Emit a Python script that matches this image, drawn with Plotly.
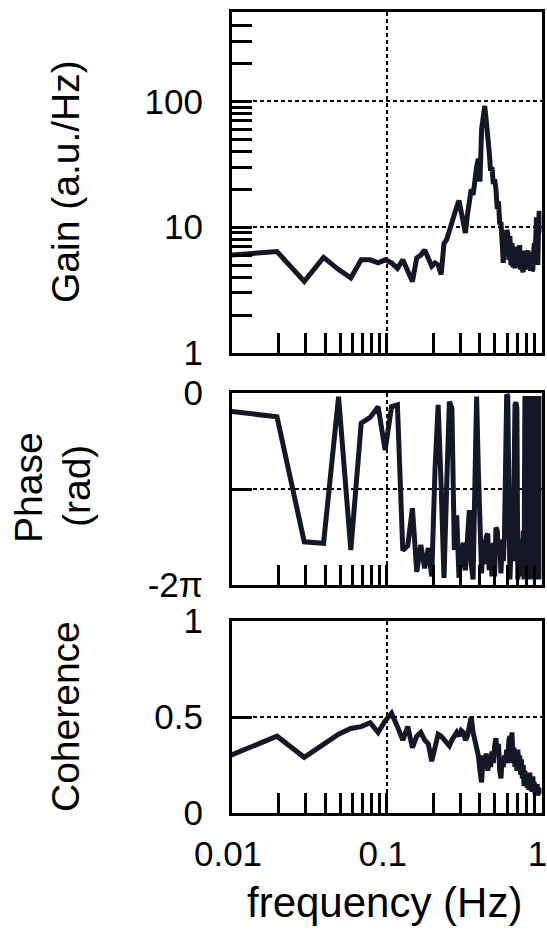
import math
import plotly.graph_objects as go

# ---------------- data ----------------
freq_bins = list(range(1, 103))          # FFT bin index
freq_resolution = 1 / 102.4              # Hz per bin
freq = [k * freq_resolution for k in freq_bins]

gain = [6.0, 6.4, 3.7, 5.75, 4.6, 3.95, 5.5, 5.5, 5.2, 5.5,
        5.2, 4.7, 5.5, 4.5, 3.7, 5.7, 6.0, 6.6, 5.8, 4.9,
        5.2, 5.0, 4.2, 7.4, 8.0, 9.5, 10.5, 12.5, 14.5, 16.3,
        13.0, 11.0, 9.0, 12.5, 15.0, 20.0, 18.0, 25.0, 30.0, 35.0,
        23.0, 60.0, 85.0, 92.0, 70.0, 45.0, 40.0, 28.0, 30.0, 22.0,
        24.0, 20.0, 14.0, 16.0, 10.5, 11.0, 7.0, 5.2, 8.5, 6.0,
        9.5, 8.9, 5.5, 8.5, 5.0, 7.5, 4.8, 7.0, 4.7, 6.5,
        4.8, 7.0, 5.0, 7.2, 4.6, 6.5, 4.6, 4.4, 6.2, 4.7,
        6.5, 4.6, 6.3, 6.5, 4.7, 6.0, 4.5, 6.3, 4.5, 4.6,
        6.0, 7.5, 5.5, 9.0, 12.0, 8.0, 5.0, 10.0, 13.5, 9.0,
        12.0, 10.0]

phase = [-0.6, -0.78, -4.87, -4.92, -0.12, -5.14, -0.99, -0.8, -0.45, -1.87,
         -0.45, -0.39, -5.15, -5.0, -3.77, -5.85, -4.97, -5.74, -5.07, -6.0,
         -2.5, -0.39, -3.0, -6.05, -3.0, -0.28, -0.5, -5.14, -4.0, -6.05,
         -5.3, -4.9, -5.8, -4.6, -3.83, -5.6, -6.1, -3.0, -0.12, -2.5,
         -5.14, -5.9, -4.8, -5.6, -4.7, -4.6, -5.8, -5.1, -6.0, -4.9,
         -6.0, -4.4, -4.5, -5.3, -4.8, -5.9, -4.9, -5.5, -4.7, -2.0,
         -0.05, -0.1, -3.0, -6.1, -5.2, -4.6, -5.5, -2.0, -0.4, -0.3,
         -0.5, -6.1, -5.0, -5.8, -4.8, -6.0, -5.2, -4.5, -6.1, -0.1,
         -6.1, -0.2, -6.1, -0.1, -5.9, -0.3, -6.1, -0.1, -6.0, -0.2,
         -6.1, -0.1, -5.8, -0.3, -6.1, -0.1, -6.0, -0.2, -6.1, -0.1,
         -5.9, -0.2]

coherence = [0.30, 0.40, 0.29, 0.36, 0.41, 0.44, 0.45, 0.47, 0.42, 0.48,
             0.52, 0.45, 0.38, 0.45, 0.34, 0.40, 0.42, 0.38, 0.36, 0.27,
             0.35, 0.41, 0.40, 0.38, 0.36, 0.35, 0.38, 0.40, 0.42, 0.40,
             0.43, 0.42, 0.38, 0.40, 0.45, 0.50, 0.42, 0.38, 0.36, 0.30,
             0.22, 0.16, 0.30, 0.25, 0.31, 0.22, 0.28, 0.24, 0.32, 0.26,
             0.35, 0.39, 0.30, 0.36, 0.22, 0.18, 0.28, 0.24, 0.30, 0.27,
             0.33, 0.26, 0.38, 0.40, 0.30, 0.42, 0.26, 0.34, 0.24, 0.30,
             0.22, 0.33, 0.26, 0.30, 0.20, 0.28, 0.18, 0.25, 0.14, 0.22,
             0.17, 0.20, 0.13, 0.18, 0.12, 0.21, 0.15, 0.17, 0.11, 0.19,
             0.13, 0.16, 0.10, 0.14, 0.12, 0.15, 0.09, 0.13, 0.11, 0.12,
             0.10, 0.13]

x_major = [0.01, 0.1, 1]
x_major_labels = ["0.01", "0.1", "1"]
x_minor = [0.02, 0.03, 0.04, 0.05, 0.06, 0.07, 0.08, 0.09,
           0.2, 0.3, 0.4, 0.5, 0.6, 0.7, 0.8, 0.9]

gain_major = [1, 10, 100]
gain_major_labels = ["1", "10", "100"]
gain_minor = [2, 3, 4, 5, 6, 7, 8, 9, 20, 30, 40, 50, 60, 70, 80, 90,
              200, 300, 400]

phase_major = [-2 * math.pi, -math.pi, 0]
phase_major_labels = ["-2π", "", "0"]

coh_major = [0, 0.5, 1]
coh_major_labels = ["0", "0.5", "1"]

# ---------------- styling ----------------
W, H = 547, 937
FONT = "Liberation Sans, Arial, sans-serif"
LINE = "#131826"
TICKFONT = dict(family=FONT, size=35, color="black")

xdom = [232 / W, 541.5 / W]
gain_dom = [1 - 353 / H, 1 - 12 / H]
phase_dom = [1 - 585 / H, 1 - 393 / H]
coh_dom = [1 - 813 / H, 1 - 621 / H]

common_axis = dict(
    showline=True, linewidth=3, linecolor="black", mirror=True,
    ticks="inside", ticklen=20, tickwidth=3, tickcolor="black",
    showgrid=True, gridcolor="black", gridwidth=1.6, griddash="4px,3px",
    zeroline=False, tickfont=TICKFONT, fixedrange=True, automargin=False,
    ticklabeloverflow="allow",
)


def xaxis(anchor, labels):
    d = dict(common_axis)
    d.update(type="log", range=[-2, 0], domain=xdom, anchor=anchor,
             tickmode="array", tickvals=x_major, ticktext=x_major_labels,
             showticklabels=labels, ticklabelstandoff=8, ticklabelshift=-4,
             minor=dict(tickvals=x_minor, ticks="inside", ticklen=20,
                        tickwidth=3, tickcolor="black", showgrid=False))
    return d


fig = go.Figure()
fig.add_trace(go.Scatter(x=freq, y=gain, mode="lines", xaxis="x", yaxis="y",
                         line=dict(color=LINE, width=5), showlegend=False))
fig.add_trace(go.Scatter(x=freq, y=phase, mode="lines", xaxis="x2", yaxis="y2",
                         line=dict(color=LINE, width=5), showlegend=False))
fig.add_trace(go.Scatter(x=freq, y=coherence, mode="lines", xaxis="x3", yaxis="y3",
                         line=dict(color=LINE, width=5), showlegend=False))

ya = dict(common_axis)
ya.update(type="log", range=[0, 2.71], domain=gain_dom, anchor="x",
          tickmode="array", tickvals=gain_major, ticktext=gain_major_labels,
          ticklabelstandoff=19,
          minor=dict(tickvals=gain_minor, ticks="inside", ticklen=20,
                     tickwidth=3, tickcolor="black", showgrid=False))
ya2 = dict(common_axis)
ya2.update(range=[-2 * math.pi, 0], domain=phase_dom, anchor="x2",
           tickmode="array", tickvals=phase_major, ticktext=phase_major_labels,
           ticklabelstandoff=19)
ya3 = dict(common_axis)
ya3.update(range=[0, 1], domain=coh_dom, anchor="x3",
           tickmode="array", tickvals=coh_major, ticktext=coh_major_labels,
           ticklabelstandoff=19)

TITLEFONT = dict(family=FONT, size=39, color="black")
annotations = [
    dict(text="Gain (a.u./Hz)", x=65 / W, y=1 - 182 / H, textangle=-90),
    dict(text="Phase", x=28 / W, y=1 - 488 / H, textangle=-90),
    dict(text="(rad)", x=77 / W, y=1 - 486 / H, textangle=-90),
    dict(text="Coherence", x=65 / W, y=1 - 717 / H, textangle=-90),
    dict(text="frequency (Hz)", x=384 / W, y=1 - 902 / H, textangle=0,
         font=dict(family=FONT, size=42, color="black")),
]
for a in annotations:
    a.update(xref="paper", yref="paper", xanchor="center", yanchor="middle",
             showarrow=False)
    a.setdefault("font", TITLEFONT)

fig.update_layout(
    width=W, height=H,
    margin=dict(l=0, r=0, t=0, b=0, pad=0, autoexpand=False),
    paper_bgcolor="white", plot_bgcolor="white",
    xaxis=xaxis("y", False),
    xaxis2=xaxis("y2", False),
    xaxis3=xaxis("y3", True),
    yaxis=ya, yaxis2=ya2, yaxis3=ya3,
    annotations=annotations,
    showlegend=False,
)

fig.write_html("out.html", config=dict(displayModeBar=False))
